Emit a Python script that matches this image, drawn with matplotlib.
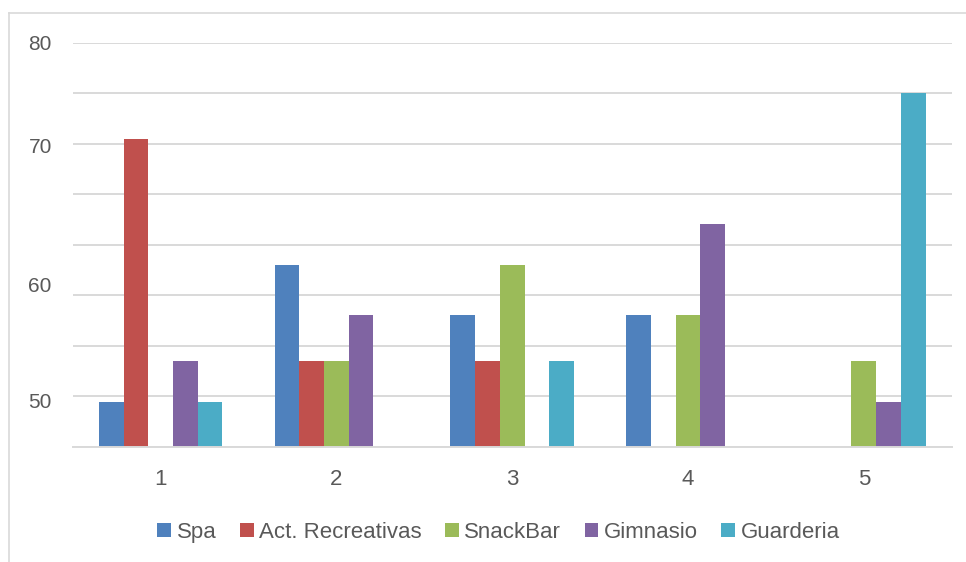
import matplotlib
matplotlib.use("Agg")
import matplotlib.pyplot as plt
from matplotlib.lines import Line2D
import numpy as np

plt.rcParams["font.family"] = ["Liberation Sans", "DejaVu Sans"]

# values, in gridline steps above the base line
categories = ["1", "2", "3", "4", "5"]
series = ["Spa", "Act. Recreativas", "SnackBar", "Gimnasio", "Guarderia"]
spa = [0.89, 3.6, 2.6, 2.6, 0]
recreativas = [6.1, 1.7, 1.7, 0, 0]
snack = [0, 1.7, 3.6, 2.6, 1.7]
gimnasio = [1.7, 2.6, 0, 4.4, 0.89]
guarderia = [0.89, 0, 1.7, 0, 7.0]

# axis labels as they sit on the original (not evenly spaced)
ylabel_pos = [0.92, 3.22, 5.96, 8.0]
ylabel_text = ["50", "60", "70", "80"]

colors = ["#4F81BD", "#C0504D", "#9BBB59", "#8064A2", "#4BACC6"]
text_col = "#595959"
grid_col = "#D9D9D9"

fig = plt.figure(figsize=(9.66, 5.62), dpi=100)
ax = fig.add_axes([72.7 / 966, 1 - 446.7 / 562, (951.7 - 72.7) / 966, (446.7 - 42.7) / 562])

x = np.arange(1, len(categories) + 1)
w = 0.1405
for i, (name, vals) in enumerate(zip(series, [spa, recreativas, snack, gimnasio, guarderia])):
    ax.bar(x + (i - 2) * w, vals, width=w, color=colors[i], label=name, zorder=3)

ax.set_xlim(0.5, 5.5)
ax.set_ylim(0, 8)

# gridlines every step, no labels
ax.set_yticks(np.arange(0, 9))
ax.set_yticklabels([])
ax.yaxis.grid(True, color=grid_col, linewidth=1.4)
ax.tick_params(axis="y", which="major", length=0)

ax.yaxis.remove_overlapping_locs = False
ax.set_yticks(ylabel_pos, ylabel_text, minor=True)
ax.tick_params(axis="y", which="minor", length=0, pad=15, labelsize=15, labelcolor=text_col)

ax.set_xticks(x, categories)
ax.tick_params(axis="x", length=0, pad=16, labelsize=16, labelcolor=text_col)

for s in ["top", "right", "left"]:
    ax.spines[s].set_visible(False)
ax.spines["bottom"].set_color(grid_col)
ax.spines["bottom"].set_linewidth(1.4)
ax.spines["bottom"].set_zorder(4)

leg = fig.legend(loc="center", bbox_to_anchor=(498.5 / 966, 1 - 532.5 / 562), ncol=5, frameon=False,
                 fontsize=16, handlelength=0.62, handleheight=0.62, handletextpad=0.25,
                 columnspacing=1.05)
for t in leg.get_texts():
    t.set_color(text_col)

# chart frame (cropped on the right and bottom in the original)
fig.add_artist(Line2D([8.5 / 966, 8.5 / 966], [0, 1 - 13.3 / 562], color=grid_col, linewidth=1.2,
                      transform=fig.transFigure))
fig.add_artist(Line2D([8.5 / 966, 1], [1 - 13.3 / 562, 1 - 13.3 / 562], color=grid_col, linewidth=1.2,
                      transform=fig.transFigure))

fig.savefig("out.png", dpi=100)
